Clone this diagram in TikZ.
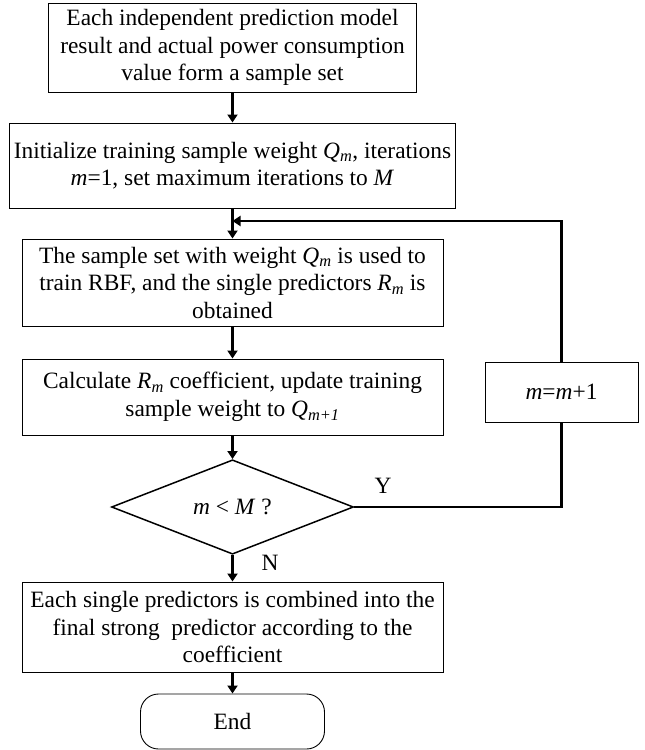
\documentclass[tikz,border=0pt]{standalone}
\usepackage{fontspec}
\setmainfont{Liberation Serif}
\usetikzlibrary{arrows.meta,shapes.geometric}
\begin{document}
\begin{tikzpicture}[x=1pt,y=-1pt,
  box/.style={draw, line width=0.9pt, align=center, inner sep=0pt, font=\fontsize{23.4}{27.5}\selectfont},
  arr/.style={line width=2.2pt, -{Triangle[length=8pt,width=10pt]}},
  link/.style={line width=2.6pt},
  lbl/.style={font=\fontsize{23.4}{27.5}\selectfont, inner sep=0pt}]
\useasboundingbox (0,0) rectangle (645,750);
\node[box, minimum width=368pt, minimum height=89pt] (b1) at (232.5,47.5)
  {Each independent prediction model\\result and actual power consumption\\value form a sample set};
\node[box, minimum width=446pt, minimum height=85pt] (b2) at (232.5,165.5)
  {Initialize training sample weight \textit{Q\textsubscript{m}}, iterations\\\textit{m}=1, set maximum iterations to \textit{M}};
\node[box, minimum width=421pt, minimum height=87pt] (b3) at (232.5,282.5)
  {The sample set with weight \textit{Q\textsubscript{m}} is used to\\train RBF, and the single predictors \textit{R\textsubscript{m}} is\\obtained};
\node[box, minimum width=421pt, minimum height=76pt] (b4) at (232.5,397)
  {Calculate \textit{R\textsubscript{m}} coefficient, update training\\sample weight to \textit{Q\textsubscript{m+1}}};
\node[box, shape=diamond, line width=1.5pt, minimum width=242pt, minimum height=93pt] (dia) at (232.5,507)
  {\textit{m} < \textit{M} ?};
\node[box, minimum width=153pt, minimum height=60pt] (mb) at (561.5,392)
  {\textit{m}=\textit{m}+1};
\node[box, minimum width=421pt, minimum height=90pt] (b5) at (232.5,627)
  {Each single predictors is combined into the\\final strong\ \ predictor according to the\\coefficient};
\node[box, rounded corners=18pt, minimum width=184pt, minimum height=55pt] (end) at (232.5,721.5)
  {End};
\node[lbl] (ylbl) at (383,486) {Y};
\node[lbl] (nlbl) at (270,563) {N};
\coordinate (fb) at (232.5,221);
\draw[arr] (b1.south) -- (b2.north);
\draw[arr] (b2.south) -- (b3.north);
\draw[arr] (b3.south) -- (b4.north);
\draw[arr] (b4.south) -- (dia.north);
\draw[arr] (dia.south) -- (b5.north);
\draw[arr] (b5.south) -- (end.north);
\draw[link] (dia.east) -| (mb.south);
\draw[link, -{Triangle[length=8pt,width=10pt]}] (mb.north) |- (fb);
\end{tikzpicture}
\end{document}
